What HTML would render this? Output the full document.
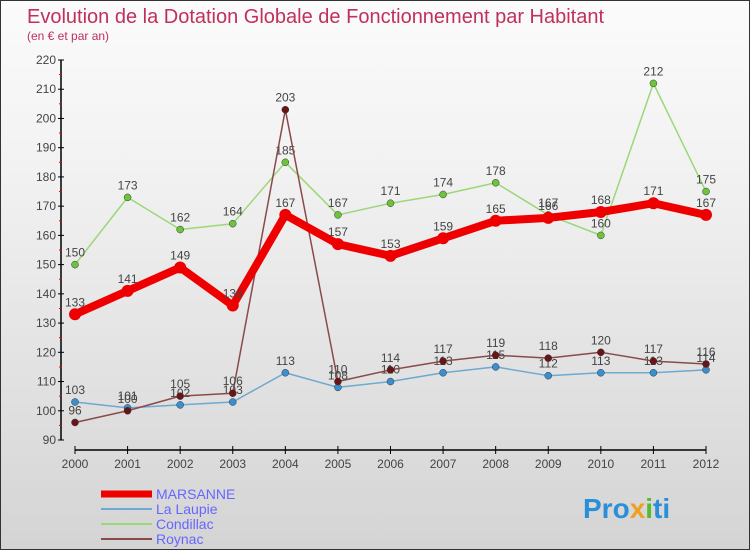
<!DOCTYPE html>
<html><head><meta charset="utf-8"><style>
html,body{margin:0;padding:0}
body{width:750px;height:550px;overflow:hidden;font-family:"Liberation Sans",sans-serif}
#wrap{position:relative;width:748px;height:548px;border:1px solid #333;background:linear-gradient(#fbfbfb,#f2f2f2 30%,#d4d4d4)}
</style></head><body>
<div id="wrap">
<svg id="chart" width="748" height="548" xmlns="http://www.w3.org/2000/svg">
<text x="26" y="22" font-size="20" fill="#c0305a">Evolution de la Dotation Globale de Fonctionnement par Habitant</text>
<text x="26" y="39" font-size="12" fill="#c0305a">(en € et par an)</text>
<g id="axes"></g>
<g id="series"></g>
<g id="legend"></g>
<text x="582" y="517" font-size="28" font-weight="bold" fill="#2a8fd8">Pro<tspan fill="#f0a020">x</tspan><tspan fill="#5cb82c">i</tspan>ti</text>
</svg>
</div>
<script>
const years=[2000,2001,2002,2003,2004,2005,2006,2007,2008,2009,2010,2011,2012];
const yTicks=[90,100,110,120,130,140,150,160,170,180,190,200,210,220];
const marsanne=[133,141,149,136,167,157,153,159,165,166,168,171,167];
const laLaupie=[103,101,102,103,113,108,110,113,115,112,113,113,114];
const condillac=[150,173,162,164,185,167,171,174,178,167,160,212,175];
const roynac=[96,100,105,106,203,110,114,117,119,118,120,117,116];
const NS="http://www.w3.org/2000/svg";
function x(i){return 74+i*(705-74)/(years.length-1);}
function y(v){return 439-(v-90)*(380/130);}
function mk(tag,attrs,parent){const e=document.createElementNS(NS,tag);for(const k in attrs)e.setAttribute(k,attrs[k]);parent.appendChild(e);return e;}
const axes=document.getElementById('axes');
let a=mk('line',{x1:60,y1:y(220),x2:60,y2:y(90),stroke:'#000','stroke-width':1.5},axes);


a=mk('line',{x1:74,y1:449,x2:705,y2:449,stroke:'#000','stroke-width':1.5},axes);


yTicks.forEach((v,i)=>{
 mk('line',{x1:57,y1:y(v),x2:63,y2:y(v),stroke:'#000'},axes);
 if(i<yTicks.length-1) mk('line',{x1:58,y1:y(v+5),x2:61,y2:y(v+5),stroke:'#e00'},axes);
 const t=mk('text',{x:55,y:y(v)+4,'font-size':12,fill:'#444','text-anchor':'end'},axes);
 t.textContent=v;
 
 
});
years.forEach((yr,i)=>{
 mk('line',{x1:x(i),y1:445,x2:x(i),y2:453,stroke:'#000'},axes);
 const t=mk('text',{x:x(i),y:467,'font-size':12,fill:'#444','text-anchor':'middle'},axes);
 t.textContent=yr;
 
 
});
const series=[
 {name:'la-laupie',data:laLaupie,color:'#6fa8d0',dot:'#3a8fd0',w:1.5,r:3.5},
 {name:'condillac',data:condillac,color:'#9ad878',dot:'#6cc43c',w:1.5,r:3.5},
 {name:'roynac',data:roynac,color:'#8a4a4a',dot:'#6a1418',w:1.5,r:3.5},
 {name:'marsanne',data:marsanne,color:'#ee0000',dot:'#ee0000',w:8,r:6}
];
const sg=document.getElementById('series');
series.forEach(s=>{
 const g=mk('g',{},sg);
 
 
 const p=mk('polyline',{points:s.data.map((v,i)=>x(i)+','+y(v)).join(' '),fill:'none',stroke:s.color,'stroke-width':s.w,'stroke-linejoin':'round'},g);
 
 
 s.data.forEach((v,i)=>{
  const c=mk('circle',{cx:x(i),cy:y(v),r:s.r,fill:s.dot,stroke:s.w>2?'none':'#333','stroke-width':0.5},g);
  
  
  const t=mk('text',{x:x(i),y:y(v)-8,'font-size':12,fill:'#444','text-anchor':'middle'},g);
  t.textContent=v;
  
  
 });
});
const lg=document.getElementById('legend');
const leg=[['MARSANNE','#ee0000',7],['La Laupie','#6fa8d0',2],['Condillac','#9ad878',2],['Roynac','#8a4a4a',2]];
leg.forEach((l,i)=>{
 const yy=493+i*15;
 mk('line',{x1:100,y1:yy,x2:151,y2:yy,stroke:l[1],'stroke-width':l[2]},lg);
 const t=mk('text',{x:155,y:yy+5,'font-size':14,fill:'#6666ff'},lg);
 t.textContent=l[0];
 
 
});
</script>
</body></html>
